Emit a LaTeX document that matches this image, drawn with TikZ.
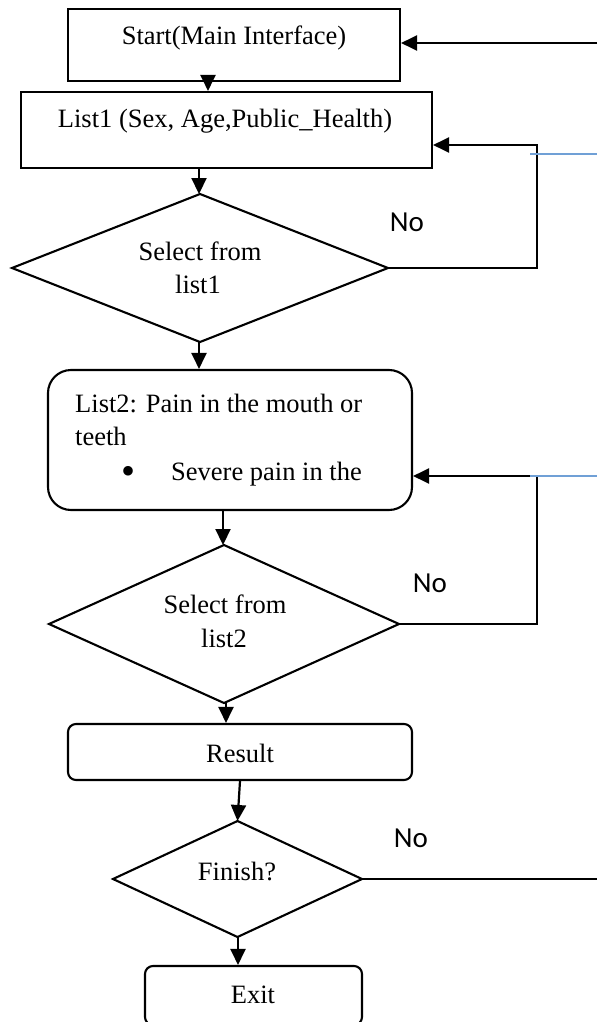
\documentclass[tikz,border=0pt]{standalone}
\usepackage{fontspec}
\setmainfont{Liberation Serif}
\newfontfamily\labelfont{Carlito}
\usetikzlibrary{shapes.geometric,arrows.meta,calc}
\definecolor{lineblue}{RGB}{112,160,214}
\begin{document}
\begin{tikzpicture}[x=1pt,y=-1pt,
  box/.style={draw,line width=2.1pt,inner sep=0pt},
  rbox/.style={box,rounded corners=#1},
  dia/.style={draw,diamond,line width=2.1pt,inner sep=0pt,outer sep=0pt},
  txt/.style={font=\fontsize{26.5}{35}\selectfont,inner sep=0pt,anchor=base},
  nolabel/.style={font=\labelfont\fontsize{29}{32}\selectfont,inner sep=0pt},
  conn/.style={line width=2.2pt},
  arr/.style={conn,-{Triangle[length=16pt,width=15pt]}},
  bluerule/.style={draw=lineblue,line width=1.3pt}]
\useasboundingbox (0,0) rectangle (597,1022);

% nodes
\node[box,minimum width=332pt,minimum height=72pt] (start) at (234,45) {};
\node[txt] (starttxt) at (234,45) {Start(Main Interface)};

\node[box,minimum width=411pt,minimum height=76pt] (list1) at (226.5,130) {};
\node[txt] (list1txt) at (225,128) {List1 (Sex, Age,Public\_Health)};

\node[dia,minimum width=376pt,minimum height=148pt] (dia1) at (200,268) {};
\node[txt] (dia1a) at (200,260) {Select from};
\node[txt] (dia1b) at (198,293) {list1};

\node[rbox=23pt,minimum width=364pt,minimum height=140pt] (list2) at (230,440) {};
\node[txt,anchor=base west] (list2a) at (75,412) {List2: Pain in the mouth or};
\node[txt,anchor=base west] (list2b) at (75,445) {teeth};
\node[txt,font=\fontsize{40}{40}\selectfont] (bullet) at (128,484) {\textbullet};
\node[txt,anchor=base west] (list2c) at (171,480) {Severe pain in the};

\node[dia,minimum width=350pt,minimum height=158pt] (dia2) at (224,624) {};
\node[txt] (dia2a) at (225,613) {Select from};
\node[txt] (dia2b) at (224,647) {list2};

\node[rbox=8pt,minimum width=344pt,minimum height=56pt] (result) at (240,752) {};
\node[txt] (resulttxt) at (240,762) {Result};

\node[dia,minimum width=249pt,minimum height=116pt] (finish) at (237.5,879) {};
\node[txt] (finishtxt) at (237,880) {Finish?};

\node[rbox=8pt,minimum width=217pt,minimum height=59pt] (exit) at (253.5,995.5) {};
\node[txt] (exittxt) at (253,1003) {Exit};

\node[nolabel] (no1) at (407,222) {No};
\node[nolabel] (no2) at (430,583) {No};
\node[nolabel] (no3) at (411,838) {No};

% helper coordinates
\coordinate (x1) at (208,0);
\coordinate (x2) at (199,0);
\coordinate (x3) at (223,0);
\coordinate (x4) at (226,0);
\coordinate (x5) at (238,0);
\coordinate (inStart) at (597,43);
\coordinate (loop1a) at (537,268);
\coordinate (loop1b) at (537,145);
\coordinate (loop2a) at (537,624);
\coordinate (loop2b) at (537,476);
\coordinate (finEnd) at (597,879);
\coordinate (blue1a) at (530,154);
\coordinate (blue1b) at (597,154);
\coordinate (blue2a) at (530,476);
\coordinate (blue2b) at (597,476);

% connectors
\draw[arr] (start.south -| x1) -- (list1.north -| x1);
\draw[arr] (list1.south -| x2) -- (dia1.north -| x2);
\draw[arr] (dia1.south -| x2) -- (list2.north -| x2);
\draw[arr] (list2.south -| x3) -- (dia2.north -| x3);
\draw[arr] (dia2.south -| x4) -- (result.north -| x4);
\draw[arr] (result.south) -- (finish.north);
\draw[arr] (finish.south -| x5) -- (exit.north -| x5);

\draw[arr] (inStart) -- (start.east |- inStart);
\draw[arr] (dia1.east) -- (loop1a) -- (loop1b) -- (list1.east |- loop1b);
\draw[arr] (dia2.east) -- (loop2a) -- (loop2b) -- (list2.east |- loop2b);
\draw[conn] (finish.east) -- (finEnd);

\draw[bluerule] (blue1a) -- (blue1b);
\draw[bluerule] (blue2a) -- (blue2b);
\end{tikzpicture}
\end{document}
